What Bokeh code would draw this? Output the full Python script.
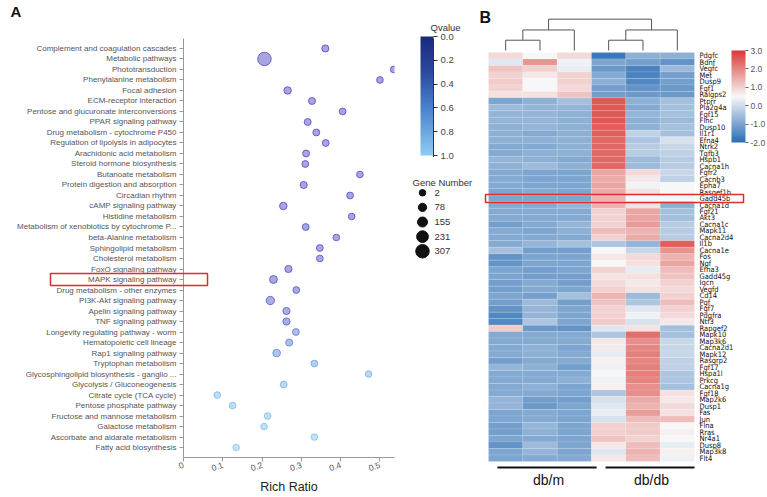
import numpy as np
from bokeh.plotting import figure
from bokeh.layouts import row
from bokeh.models import (Range1d, FixedTicker, LinearColorMapper, ColorBar, ColumnDataSource,
                          CustomJSTickFormatter, PrintfTickFormatter)
from bokeh.transform import transform
from bokeh.core.properties import value
from bokeh.embed import file_html
from bokeh.resources import INLINE

# ---------------- Panel A data ----------------
pathways = [
    "Complement and coagulation cascades", "Metabolic pathways", "Phototransduction",
    "Phenylalanine metabolism", "Focal adhesion", "ECM-receptor interaction",
    "Pentose and glucuronate interconversions", "PPAR signaling pathway",
    "Drug metabolism - cytochrome P450", "Regulation of lipolysis in adipocytes",
    "Arachidonic acid metabolism", "Steroid hormone biosynthesis", "Butanoate metabolism",
    "Protein digestion and absorption", "Circadian rhythm", "cAMP signaling pathway",
    "Histidine metabolism", "Metabolism of xenobiotics by cytochrome P...",
    "beta-Alanine metabolism", "Sphingolipid metabolism", "Cholesterol metabolism",
    "FoxO signaling pathway", "MAPK signaling pathway", "Drug metabolism - other enzymes",
    "PI3K-Akt signaling pathway", "Apelin signaling pathway", "TNF signaling pathway",
    "Longevity regulating pathway - worm", "Hematopoietic cell lineage",
    "Rap1 signaling pathway", "Tryptophan metabolism",
    "Glycosphingolipid biosynthesis - ganglio ...", "Glycolysis / Gluconeogenesis",
    "Citrate cycle (TCA cycle)", "Pentose phosphate pathway",
    "Fructose and mannose metabolism", "Galactose metabolism",
    "Ascorbate and aldarate metabolism", "Fatty acid biosynthesis",
]
rich_ratio = [0.361, 0.206, 0.535, 0.500, 0.265, 0.327, 0.405, 0.316, 0.338, 0.362,
              0.312, 0.310, 0.449, 0.306, 0.424, 0.254, 0.428, 0.311, 0.389, 0.347,
              0.347, 0.267, 0.229, 0.287, 0.221, 0.262, 0.262, 0.286, 0.269, 0.237,
              0.333, 0.471, 0.255, 0.086, 0.125, 0.214, 0.205, 0.333, 0.134]
gene_number = [30, 307, 12, 10, 45, 25, 14, 22, 20, 18, 20, 16, 10, 28, 14, 48, 9, 18, 10, 16,
               12, 34, 60, 14, 80, 34, 34, 18, 28, 55, 12, 6, 16, 8, 10, 10, 9, 8, 6]
qvalue = [0.02, 0.02, 0.03, 0.03, 0.03, 0.04, 0.04, 0.05, 0.05, 0.05, 0.06, 0.06, 0.06, 0.07,
          0.07, 0.08, 0.08, 0.09, 0.09, 0.10, 0.10, 0.11, 0.12, 0.14, 0.22, 0.27, 0.28, 0.45,
          0.50, 0.55, 0.70, 0.80, 0.82, 0.86, 0.88, 0.90, 0.92, 0.94, 0.96]
x_ticks = [0, 0.1, 0.2, 0.3, 0.4, 0.5]
qvalue_ticks = [0.0, 0.2, 0.4, 0.6, 0.8, 1.0]
legend_gene_numbers = [2, 78, 155, 231, 307]
highlight_pathway = "MAPK signaling pathway"

# ---------------- Panel B data ----------------
genes = ["Pdgfc", "Bdnf", "Vegfc", "Met", "Dusp9", "Fgf1", "Ralgps2", "Ptprr", "Pla2g4a",
         "Fgf15", "Flnc", "Dusp10", "Il1r1", "Efna4", "Ntrk2", "Tgfb3", "Hspb1", "Cacna1h",
         "Fgfr2", "Cacnb3", "Epha7", "Rasgef1b", "Gadd45b", "Cacna1d", "Fgf21", "Akt3",
         "Cacna1c", "Mapk11", "Cacna2d4", "Il1b", "Cacna1e", "Fos", "Ngf", "Efna3", "Gadd45g",
         "Iqcn", "Vegfd", "Cd14", "Pgf", "Fgf7", "Pdgfra", "Ntf3", "Rapgef2", "Mapk10",
         "Map3k6", "Cacna2d1", "Mapk12", "Rasgrp2", "Fgf17", "Hspa1l", "Prkcg", "Cacna1g",
         "Fgf18", "Map2k6", "Dusp1", "Fas", "Jun", "Flna", "Rras", "Nr4a1", "Dusp8",
         "Map3k8", "Flt4"]
samples = ["db/m 1", "db/m 2", "db/m 3", "db/db 1", "db/db 2", "db/db 3"]
dbm_1 = [0.9, 0.2, 1.2, 1.0, 1.1, 1.0, 0.8,
         -1.0, -0.6, -0.7, -0.7, -0.8, -0.8, -0.8, -0.9, -0.9, -0.7, -0.8,
         -0.9, -0.9, -0.9, -1.0, -1.0,
         -0.9, -0.9, -0.9, -1.1, -0.9, -0.9, -0.9, -0.5,
         -1.3, -1.3, -1.0, -1.0, -1.1, -1.1, -1.0, -1.1, -1.3, -1.5, -1.5, 1.1,
         -0.9, -0.9, -0.9, -0.9, -1.1, -0.7, -0.9, -0.9, -0.9, -0.9,
         -0.7, -0.7, -1.0, -1.0, -1.1, -1.1, -1.0, -1.3, -1.0, -1.0]
dbm_2 = [0.5, 1.8, 1.0, 0.7, 0.5, 0.5, 0.8,
         -0.8, -0.7, -0.7, -0.7, -0.7, -0.9, -0.8, -0.9, -0.8, -0.8, -0.6,
         -1.0, -1.0, -1.0, -0.9, -1.0,
         -0.9, -0.9, -0.9, -0.9, -1.0, -0.9, -0.7, -1.1,
         -1.0, -1.0, -1.1, -1.1, -0.9, -0.9, -1.1, -0.6, -0.7, -0.7, -0.4, -1.2,
         -0.9, -0.9, -0.8, -0.8, -0.9, -0.8, -0.9, -0.9, -0.8, -0.9,
         -1.1, -1.2, -0.9, -0.9, -0.7, -0.8, -0.9, -0.6, -0.7, -0.9]
dbm_3 = [0.9, 0.4, 0.3, 1.0, 1.0, 0.9, 1.2,
         -0.5, -0.7, -0.8, -0.8, -0.8, -0.8, -0.8, -0.8, -0.8, -0.9, -0.8,
         -1.0, -1.0, -1.0, -1.0, -1.0,
         -0.7, -0.9, -0.9, -0.7, -0.8, -0.9, -0.5, -1.1,
         -1.0, -1.0, -1.0, -1.1, -1.1, -1.0, -0.5, -1.1, -1.0, -1.0, -1.0, -1.3,
         -0.9, -0.9, -1.0, -0.9, -0.9, -1.1, -0.9, -0.8, -1.0, -1.0,
         -1.1, -1.0, -1.0, -1.0, -1.0, -1.0, -1.0, -1.0, -1.0, -0.9]
dbdb_1 = [-1.8, -1.0, -1.2, -0.9, -0.8, -1.1, -1.1,
          2.6, 2.6, 2.6, 2.6, 2.5, 2.5, 2.4, 2.4, 2.4, 2.4, 2.4,
          1.6, 1.5, 1.6, 1.5, 1.4,
          1.4, 1.0, 1.0, 1.0, 1.3, 1.0, -0.4, 0.5,
          0.7, 0.5, 1.0, 0.8, 0.9, 1.0, 1.4, 1.2, 1.0, 1.0, 1.1, 0.2,
          -0.4, 0.7, 0.7, 0.3, 0.6, 0.4, 0.5, 0.4, 0.6, -0.4,
          0.1, 0.2, 0.3, 0.1, 1.0, 1.0, 1.2, 0.7, 0.2, 0.7]
dbdb_2 = [-0.8, -1.1, -1.6, -1.6, -1.5, -1.3, -1.2,
          -0.8, -0.9, -0.7, -0.8, -0.8, -0.2, -0.4, -0.3, -0.3, -0.6, -0.6,
          0.9, 0.7, 0.4, 0.8, 0.5,
          0.8, 1.6, 1.6, 1.7, 1.4, 1.5, -0.7, -0.1,
          0.9, 0.8, 0.3, 0.8, 0.7, 0.8, -0.6, -0.4, 0.2, 0.4, 0.1, 0.8,
          2.3, 1.9, 2.0, 2.1, 2.0, 2.1, 2.1, 2.0, 1.9, 1.9,
          1.5, 1.4, 1.7, 1.3, 1.1, 1.1, 1.0, 1.3, 1.4, 1.3]
dbdb_3 = [-0.8, -1.3, -0.6, -1.1, -1.1, -1.2, -1.2,
          -0.5, -0.5, -0.5, -0.6, -0.5, -0.5, 0.1, -0.1, -0.2, -0.3, -0.3,
          -0.1, -0.2, 0.5, 0.5, 0.5,
          -0.8, -0.5, -0.5, -0.3, -0.3, -0.3, 2.5, 1.8,
          1.4, 1.6, 1.3, 1.2, 1.0, 0.9, 1.0, 1.3, 1.0, 0.9, 0.7, -0.5,
          -0.5, -0.1, -0.1, -0.1, -0.2, -0.2, -0.4, -0.4, -0.5, 0.8,
          0.7, 0.9, 0.8, 1.3, 0.5, 0.6, 0.5, 0.3, 0.6, 0.4]
heat_columns = [dbm_1, dbm_2, dbm_3, dbdb_1, dbdb_2, dbdb_3]
groups = ["db/m", "db/db"]
heat_ticks = [-2, -1, 0, 1, 2, 3]
# dendrogram linkage (scipy style: child a, child b, height)
linkage = [(0, 1, 1.0), (6, 2, 2.0), (3, 4, 1.0), (8, 5, 2.0), (7, 9, 3.05)]
highlight_gene = "Gadd45b"

# ---------------- helpers ----------------
def ramp(stops, n=256):
    pos = np.array([s[0] for s in stops], float)
    rgb = np.array([[int(s[1][i:i + 2], 16) for i in (1, 3, 5)] for s in stops], float)
    out = []
    for t in np.linspace(pos[0], pos[-1], n):
        c = [np.interp(t, pos, rgb[:, k]) for k in range(3)]
        out.append("#%02x%02x%02x" % tuple(int(round(v)) for v in c))
    return out

def overlay(r):
    r.level = "overlay"   # draw without clipping to the frame
    return r

FONT = "Liberation Sans"
H = 497
F_TOP, F_BOT = 38, 38           # shared frame borders (row aligns frames)
FRAME_TOP_PX, FRAME_BOT_PX = F_TOP, H - F_BOT

# ================= Panel A =================
A_W = 395
A_LEFT, A_RIGHT = 183, 1
X_END = 0.537
n = len(pathways)
row_px = (449 - 48) / (n - 1)
y_top = n + (48 - FRAME_TOP_PX) / row_px
y_bot = 1 - (FRAME_BOT_PX - 449) / row_px
ypos = [n - i for i in range(n)]
x_ppu = (A_W - A_LEFT - A_RIGHT) / X_END

def ax_x(px):
    return (px - A_LEFT) / x_ppu

def ax_y(py):
    return y_top - (py - FRAME_TOP_PX) / row_px

pA = figure(width=A_W, height=H, x_range=Range1d(0, X_END), y_range=Range1d(y_bot, y_top),
            output_backend="svg", toolbar_location=None,
            min_border_left=A_LEFT, min_border_right=A_RIGHT,
            min_border_top=F_TOP, min_border_bottom=F_BOT)
pA.outline_line_color = None
pA.xgrid.visible = False
pA.ygrid.visible = False

dot_palette = ramp([(0.0, "#5047c2"), (0.3, "#5860c8"), (0.55, "#5f8ad8"), (1.0, "#8ccbf2")])
dot_mapper = LinearColorMapper(palette=dot_palette, low=0, high=1)

def dot_size(g):
    return 6.5 + 7.0 * (g - 2) / 305.0

srcA = ColumnDataSource(dict(x=rich_ratio, y=ypos, q=qvalue,
                             s=[dot_size(g) for g in gene_number]))
pA.scatter(x="x", y="y", size="s", source=srcA, fill_color=transform("q", dot_mapper),
           fill_alpha=0.5, line_color=transform("q", dot_mapper), line_alpha=0.8, line_width=1)

pA.xaxis.ticker = FixedTicker(ticks=x_ticks)
pA.xaxis.axis_label = "Rich Ratio"
pA.xaxis.major_label_orientation = 0.35
pA.xaxis.axis_label_text_font = FONT
pA.xaxis.axis_label_text_font_size = "12.5px"
pA.xaxis.axis_label_text_font_style = "normal"
pA.xaxis.axis_label_text_color = "#222222"
pA.xaxis.axis_label_standoff = 3
pA.yaxis.ticker = FixedTicker(ticks=ypos)
pA.yaxis.major_label_overrides = {int(y): name for y, name in zip(ypos, pathways)}
for axis in pA.axis:
    axis.axis_line_color = "#999999"
    axis.major_tick_line_color = "#999999"
    axis.major_tick_out = 4
    axis.major_tick_in = 0
    axis.minor_tick_line_color = None
    axis.major_label_text_font = FONT
    axis.major_label_text_font_size = "8px"
    axis.major_label_text_color = "#555555"
    axis.major_label_standoff = 3
pA.xaxis.major_label_text_font_size = "8.5px"

hy = ypos[pathways.index(highlight_pathway)]
overlay(pA.quad(left=[ax_x(50)], right=[ax_x(207)], bottom=[hy - 0.57], top=[hy + 0.57],
                fill_color=None, line_color="#e32b2b", line_width=1.5))
overlay(pA.text(x=[ax_x(10)], y=[ax_y(11)], text=["A"], text_font=value(FONT),
                text_font_size="15px", text_font_style="bold", text_baseline="middle",
                text_color="#111111"))

# ================= Legend column =================
L_X0, L_X1 = 395, 478
pL = figure(width=L_X1 - L_X0, height=H, x_range=Range1d(L_X0, L_X1),
            y_range=Range1d(FRAME_BOT_PX, FRAME_TOP_PX),
            output_backend="svg", toolbar_location=None,
            min_border_left=0, min_border_right=0, min_border_top=F_TOP, min_border_bottom=F_BOT,
            x_axis_location=None, y_axis_location=None)
pL.outline_line_color = None
pL.xgrid.visible = False
pL.ygrid.visible = False

QB_X, QB_TOP, QB_BOT, QB_W = 420, 38, 157, 13
q_palette = ramp([(0.0, "#8fcbf3"), (0.4, "#4a82cc"), (0.7, "#2b4a9e"), (1.0, "#1b2a7a")])
q_bar_mapper = LinearColorMapper(palette=q_palette, low=0, high=1)
cbq = ColorBar(color_mapper=q_bar_mapper, location=(QB_X - L_X0, FRAME_BOT_PX - QB_BOT),
               width=QB_W, height=QB_BOT - QB_TOP,
               padding=0, margin=0, ticker=FixedTicker(ticks=qvalue_ticks),
               formatter=CustomJSTickFormatter(code="return (1 - tick).toFixed(1);"),
               major_label_text_font=FONT, major_label_text_font_size="9.5px",
               major_label_text_color="#444444", major_tick_out=4, major_tick_in=0,
               major_tick_line_color="#333333", label_standoff=3,
               background_fill_alpha=0, border_line_color=None, bar_line_color=None)
pL.add_layout(cbq)
overlay(pL.segment(x0=[QB_X + QB_W], x1=[QB_X + QB_W], y0=[QB_TOP], y1=[QB_BOT],
                   line_color="#333333", line_width=1))
overlay(pL.text(x=[430], y=[27], text=["Qvalue"], text_font=value(FONT),
                text_font_size="9.5px", text_baseline="middle", text_color="#333333"))
overlay(pL.text(x=[412], y=[183], text=["Gene Number"], text_font=value(FONT),
                text_font_size="9.5px", text_baseline="middle", text_color="#333333"))
leg_y = [193 + 14.7 * i for i in range(len(legend_gene_numbers))]
overlay(pL.scatter(x=[422] * len(leg_y), y=leg_y,
                   size=[dot_size(g) for g in legend_gene_numbers],
                   fill_color="#111111", line_color="#111111"))
overlay(pL.text(x=[434] * len(leg_y), y=leg_y, text=[str(g) for g in legend_gene_numbers],
                text_font=value(FONT), text_font_size="9.5px", text_baseline="middle",
                text_color="#333333"))

# ================= Panel B =================
B_X0, B_X1 = 478, 767
COL_W = 34.33
ROW_H = 6.524
HM_LEFT, HM_BOTTOM = 488, 463
ng = len(genes)

def bx(px):
    return (px - HM_LEFT) / COL_W

def by(py):
    return (HM_BOTTOM - py) / ROW_H

pB = figure(width=B_X1 - B_X0, height=H, x_range=Range1d(bx(B_X0), bx(B_X1)),
            y_range=Range1d(by(FRAME_BOT_PX), by(FRAME_TOP_PX)), output_backend="svg",
            toolbar_location=None, min_border_left=0, min_border_right=0,
            min_border_top=F_TOP, min_border_bottom=F_BOT,
            x_axis_location=None, y_axis_location=None)
pB.outline_line_color = None
pB.xgrid.visible = False
pB.ygrid.visible = False

heat_palette = ramp([(-2.0, "#2a6db5"), (0.5, "#f8f8f8"), (3.0, "#d93a35")])
heat_mapper = LinearColorMapper(palette=heat_palette, low=-2, high=3)
xs, ys, vs = [], [], []
for j, col in enumerate(heat_columns):
    for i, v in enumerate(col):
        xs.append(j + 0.5)
        ys.append(ng - i - 0.5)
        vs.append(v)
overlay(pB.rect(x="x", y="y", width=1, height=1, fill_color=transform("v", heat_mapper),
                line_color="white", line_alpha=0.25, line_width=0.5,
                source=ColumnDataSource(dict(x=xs, y=ys, v=vs))))

overlay(pB.text(x=[bx(699)] * ng, y=[ng - i - 0.5 for i in range(ng)], text=genes,
                text_font=value("DejaVu Sans Condensed"), text_font_size="7.5px",
                text_baseline="middle", text_align="left", text_color="#111111"))

gap = 0.3
den_scale = 1.58
node_x = {k: k + 0.5 for k in range(len(samples))}
node_y = {k: ng + gap for k in range(len(samples))}
dxs, dys = [], []
for m, (a, b, h) in enumerate(linkage):
    nid = len(samples) + m
    yy = ng + gap + h * den_scale
    dxs.append([node_x[a], node_x[a], node_x[b], node_x[b]])
    dys.append([node_y[a], yy, yy, node_y[b]])
    node_x[nid] = (node_x[a] + node_x[b]) / 2
    node_y[nid] = yy
overlay(pB.multi_line(xs=dxs, ys=dys, line_color="#555555", line_width=1))

gl_x0 = [0.26, 3.41]
gl_x1 = [3.15, 6.0]
overlay(pB.segment(x0=gl_x0, x1=gl_x1, y0=[by(469)] * 2, y1=[by(469)] * 2,
                   line_color="#111111", line_width=2))
group_centers = [node_x[len(samples) + 1], node_x[len(samples) + 3]]
overlay(pB.text(x=group_centers, y=[by(482)] * 2, text=groups, text_font=value(FONT),
                text_font_size="14px", text_align="center", text_baseline="middle",
                text_color="#111111"))

gy = ng - genes.index(highlight_gene) - 0.5
overlay(pB.quad(left=[bx(485)], right=[bx(743)], bottom=[gy - 0.62], top=[gy + 0.62],
                fill_color=None, line_color="#e32b2b", line_width=1.5))

overlay(pB.text(x=[bx(479)], y=[by(17)], text=["B"], text_font=value(FONT),
                text_font_size="16px", text_font_style="bold", text_baseline="middle",
                text_color="#111111"))

HB_X, HB_TOP, HB_BOT = 731, 52, 144
cbh = ColorBar(color_mapper=heat_mapper, location=(HB_X - B_X0, FRAME_BOT_PX - HB_BOT),
               width=14, height=HB_BOT - HB_TOP,
               padding=0, margin=0, ticker=FixedTicker(ticks=heat_ticks),
               formatter=PrintfTickFormatter(format="%.1f"),
               major_label_text_font=FONT, major_label_text_font_size="8.5px",
               major_label_text_color="#555555", major_tick_out=3, major_tick_in=0,
               major_tick_line_color="#666666", label_standoff=2,
               background_fill_alpha=0, border_line_color=None, bar_line_color=None)
pB.add_layout(cbh)

layout = row(pA, pL, pB)
open("out.html", "w").write(file_html(layout, INLINE))
